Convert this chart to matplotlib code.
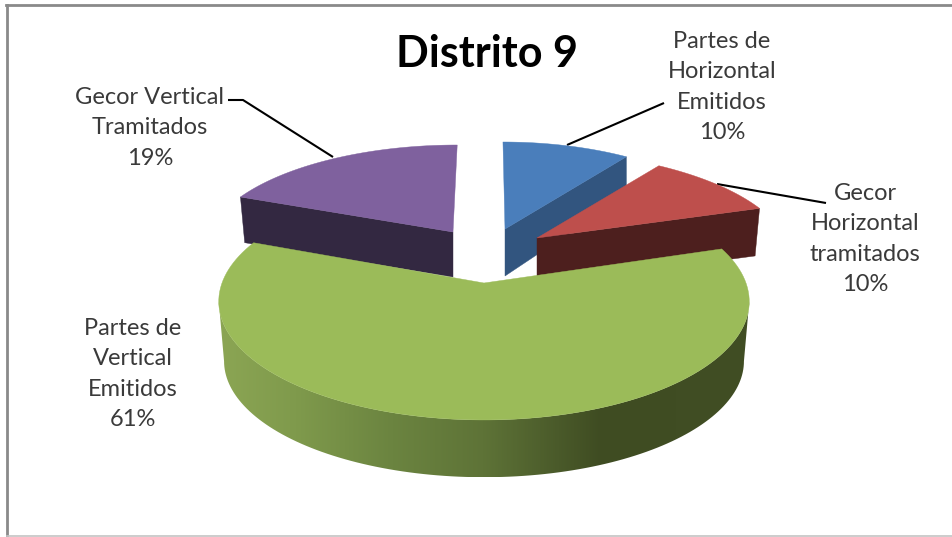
import numpy as np
import matplotlib
matplotlib.use("Agg")
import matplotlib.pyplot as plt
from matplotlib.patches import Polygon
from matplotlib.colors import LinearSegmentedColormap

title = "Distrito 9"
categories = ["Partes de\nHorizontal\nEmitidos", "Gecor\nHorizontal\ntramitados",
              "Partes de\nVertical\nEmitidos", "Gecor Vertical\nTramitados"]
values = [10, 10, 61, 19]

colors_top = ["#4A7EBB", "#BE4F4C", "#9BBB59", "#7F619E"]
colors_wall = ["#32557F", "#4D1F1E", None, "#332841"]
# per-slice projection: apex x, apex y, x scale, y scale, skew, wall depth, wall kx, wall ky
geom = [
    (505, 229, 0.90, 0.87, -0.010, 47, 1.00, 1.12),
    (537, 238, 0.95, 0.87, -0.045, 47, 0.98, 0.98),
    (484, 283, 1.00, 1.00, 0.000, 60, 0.98, 0.98),
    (453, 232, 0.93, 0.87, 0.020, 45, 0.98, 0.98),
]
label_pos = [(722, 48), (865, 200), (133, 335), (150, 104)]
leaders = [
    [(567, 145), (664, 103)],
    [(717, 184), (826, 203)],
    None,
    [(333, 157), (243, 100), (228, 100)],
]
RX, RY, K = 262.0, 115.6, 0.156

plt.rcParams["font.family"] = ["Lato", "DejaVu Sans"]
fig = plt.figure(figsize=(9.53, 5.37), dpi=100)
ax = fig.add_axes([0, 0, 1, 1])


def rim(a0, a1, cx, cy, sx, sy, skew, n=120):
    t = np.radians(np.linspace(a0, a1, n))
    X, Y = np.sin(t), np.cos(t)
    w = 1 + K * Y
    return np.column_stack([cx + sx * RX * (X + skew * Y) / w, cy - sy * RY * Y / w])


shares = np.array(values, dtype=float) / sum(values) * 360
starts = np.concatenate([[0], np.cumsum(shares)[:-1]])
ends = starts + shares
# rim angles where the projected circle has its left and right tangents
tan_r = np.degrees(np.arccos(-K))
tan_l = 360 - tan_r

for i in [3, 0, 1, 2]:
    cx, cy, sx, sy, skew, d, kx, ky = geom[i]
    a0, a1 = starts[i], ends[i]
    top = rim(a0, a1, cx, cy, sx, sy, skew)
    if i == 2:
        w_top = rim(tan_r, tan_l, cx, cy, sx, sy, skew)
        w_bot = rim(tan_r, tan_l, cx, cy + d, sx * kx, sy * ky, skew)
        wall = Polygon(np.vstack([w_top, w_bot[::-1]]), closed=True, fc="none", ec="none")
        ax.add_patch(wall)
        cmap = LinearSegmentedColormap.from_list("g", [
            (0.00, "#8CA654"), (0.15, "#7F9A4C"), (0.33, "#6B8440"), (0.50, "#5E7337"),
            (0.64, "#4A5A2A"), (0.72, "#3F4C22"), (1.00, "#414E24")])
        im = ax.imshow(np.linspace(0, 1, 256)[None, :], extent=(215, 752, 477, 240),
                       cmap=cmap, aspect="auto", zorder=3.4)
        im.set_clip_path(wall)
    else:
        edge = a0 if i == 3 else a1
        ax.add_patch(Polygon(np.vstack([[cx, cy], [cx, cy + d],
                                        rim(edge, edge, cx, cy + d, sx * kx, sy * ky, skew, 1),
                                        rim(edge, edge, cx, cy, sx, sy, skew, 1)]),
                             closed=True, fc=colors_wall[i], ec=colors_wall[i], lw=0.3,
                             zorder=2 + i * 0.1))
    ax.add_patch(Polygon(np.vstack([[cx, cy], top]), closed=True, fc=colors_top[i],
                         ec=colors_top[i], lw=0.3, zorder=3 if i != 2 else 3.5))

for i, (name, v) in enumerate(zip(categories, values)):
    x, y = label_pos[i]
    lines = name.split("\n") + [f"{v}%"]
    for j, s in enumerate(lines):
        ax.text(x, y + j * 30.4, s, ha="center", va="baseline", fontsize=17, color="#3A3A3A", zorder=5)
    if leaders[i]:
        xs, ys = zip(*leaders[i])
        ax.plot(xs, ys, color="black", lw=1.5, zorder=2.5, solid_capstyle="butt")

ax.text(487, 67, title, ha="center", va="baseline", fontsize=31, fontweight="bold", color="black", zorder=5)

# chart frame
ax.plot([7, 7], [5, 536], color="#8A8A8A", lw=2.0, zorder=1)
ax.plot([6, 953], [5, 5], color="#8A8A8A", lw=2.0, zorder=1)
ax.plot([7, 953], [536, 536], color="#C4C4C4", lw=1.2, zorder=1)

ax.set_xlim(0, 953)
ax.set_ylim(537, 0)
ax.axis("off")
fig.savefig("out.png", dpi=100, facecolor="white")
